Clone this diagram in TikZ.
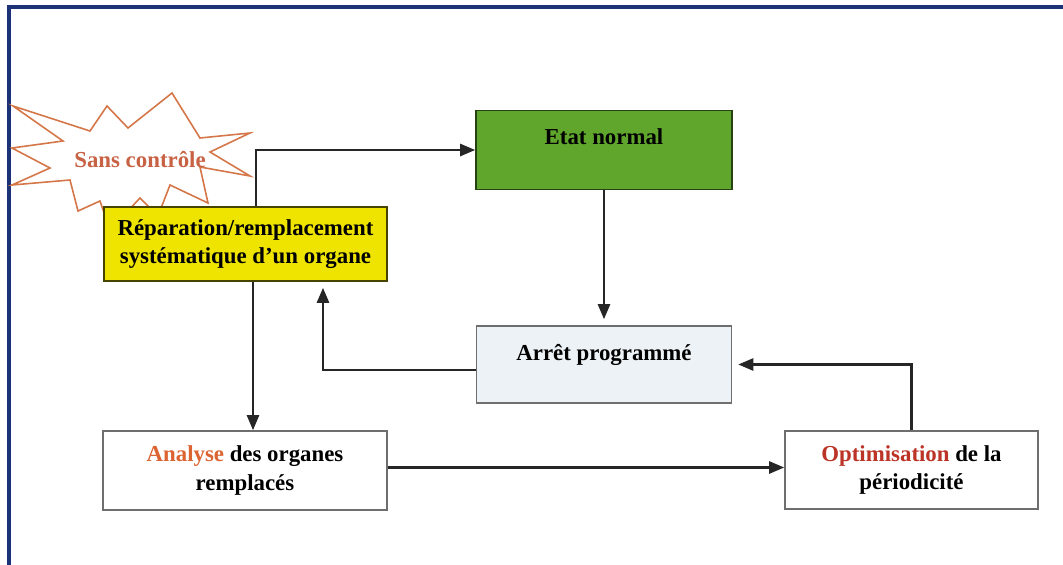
\documentclass[tikz,border=0pt]{standalone}
\usepackage{fontspec}
\setmainfont{Liberation Serif}
\usepackage{tikz}
\usetikzlibrary{arrows.meta,positioning}
\definecolor{framenavy}{RGB}{28,50,118}
\definecolor{etatgreen}{RGB}{96,166,44}
\definecolor{repyellow}{RGB}{238,228,0}
\definecolor{arretblue}{RGB}{236,242,246}
\definecolor{starorange}{RGB}{212,118,72}
\definecolor{startext}{RGB}{200,98,68}
\definecolor{anaorange}{RGB}{220,100,50}
\definecolor{optred}{RGB}{188,52,38}
\definecolor{boxgray}{RGB}{110,110,110}

\begin{document}
\begin{tikzpicture}[x=0.02cm,y=-0.02cm,
  box/.style={draw=boxgray, line width=0.9pt, font=\fontsize{13}{16}\selectfont\bfseries, align=center, inner sep=0pt},
  arr/.style={-{Triangle[length=3mm,width=2.4mm]}, line width=1.4pt, black!85}]
\useasboundingbox (0,0) rectangle (1063,565);
% Frame
\draw[framenavy, line width=1.8pt] (9,565) -- (9,7) -- (1063,7);
% Starburst
\draw[starorange, line width=0.9pt, fill=white] (13,106) -- (90,131) -- (107,106) -- (128,128) -- (172,93) -- (200,138) -- (250,133) -- (210,152) -- (250,176) -- (200,167) -- (208,203) -- (170,185) -- (158,216) -- (140,198) -- (110,230) -- (100,201) -- (78,211) -- (70,180) -- (12,185) -- (50,168) -- (12,148) -- (63,141) -- cycle;
\node[font=\fontsize{13}{16}\selectfont\bfseries, startext] (sans) at (140,160) {Sans contrôle};
% Boxes
\node[box, fill=etatgreen, draw=black!60!etatgreen, minimum width=5.12cm, minimum height=1.58cm, text height=0.35cm, text depth=0.57cm] (etat) at (604,150) {Etat normal};
\node[box, fill=arretblue, minimum width=5.1cm, minimum height=1.54cm, text height=0.35cm, text depth=0.5cm] (arret) at (604,364.5) {Arrêt programmé};
\node[box, fill=repyellow, draw=black!70!repyellow, minimum width=5.66cm, minimum height=1.48cm] (rep) at (245.5,244) {Réparation/remplacement\\systématique d’un organe};
\node[box, fill=white, minimum width=5.68cm, minimum height=1.58cm] (ana) at (245,470.5) {\textcolor{anaorange}{Analyse} des organes\\remplacés};
\node[box, fill=white, minimum width=5.06cm, minimum height=1.56cm] (opt) at (911.5,470) {\textcolor{optred}{Optimisation} de la\\périodicité};
% Connectors
\draw[arr] ([xshift=0.21cm]rep.north) |- (etat.west);
\draw[arr, shorten >=0.12cm] (etat.south) -- (etat.south |- arret.north);
\draw[arr, shorten >=0.12cm] ([yshift=-0.11cm]arret.west) -| ([xshift=1.55cm]rep.south);
\draw[arr] ([xshift=0.15cm]rep.south) -- ([xshift=0.15cm]rep.south |- ana.north);
\draw[arr] ([yshift=0.06cm]ana.east) -- ([yshift=0.06cm]ana.east -| opt.west);
\draw[arr, shorten >=0.12cm] (opt.north) |- (arret.east);
\end{tikzpicture}
\end{document}
